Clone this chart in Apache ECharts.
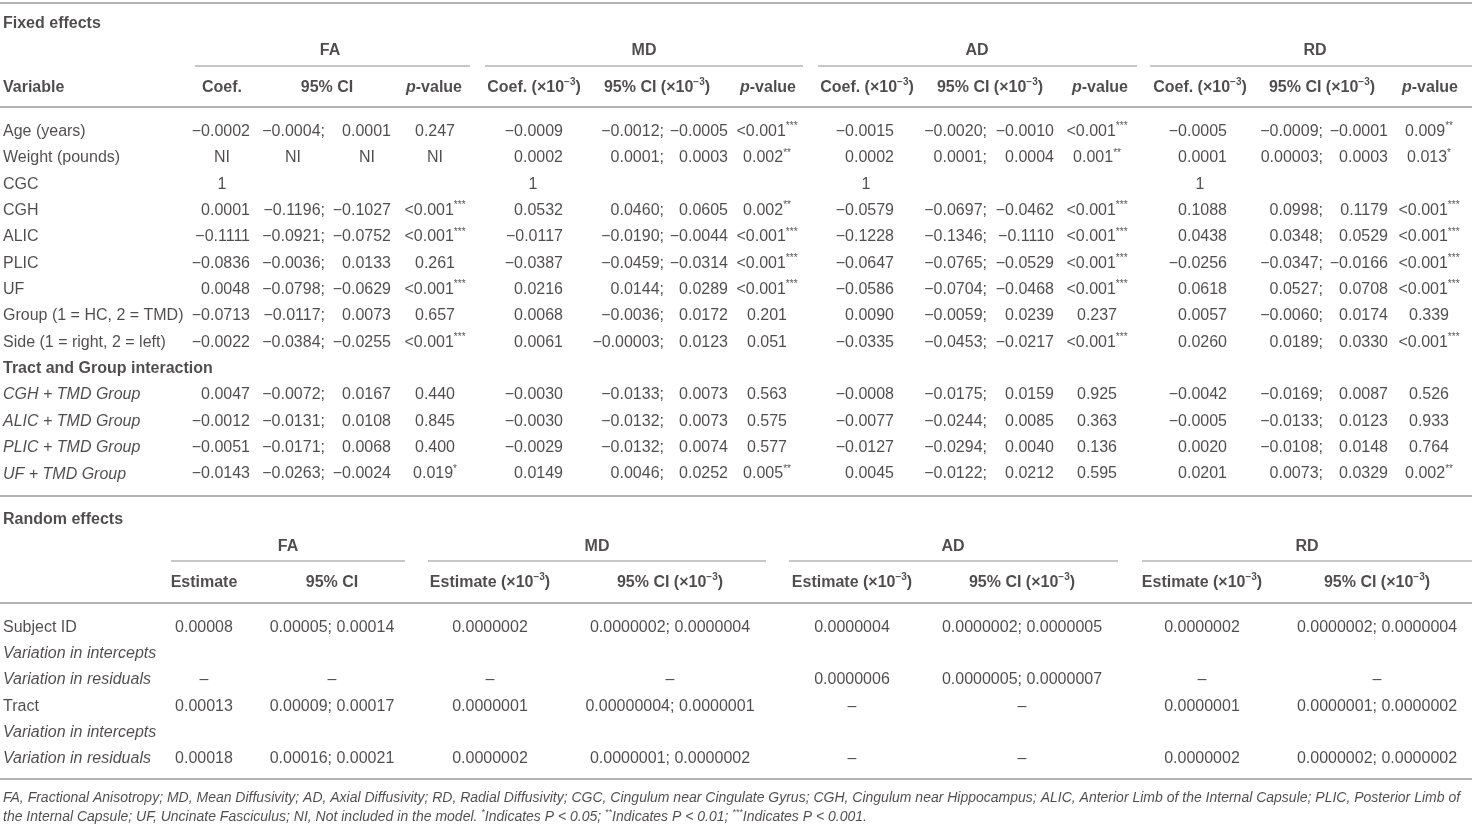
<!DOCTYPE html>
<html>
<head>
<meta charset="utf-8">
<title>Linear mixed model results</title>
<script src="https://cdn.jsdelivr.net/npm/echarts@6/dist/echarts.min.js"></script>
<style>
    html, body { margin: 0; padding: 0; background: #fff; }
    #chart { width: 1472px; height: 826px; }
</style>
</head>
<body>
<div id="chart"></div>
<script>
// ---- data: fixed effects (9 rows) + tract x group interaction (4 rows) ----
var fixedVars = ['Age (years)', 'Weight (pounds)', 'CGC', 'CGH', 'ALIC', 'PLIC', 'UF',
    'Group (1 = HC, 2 = TMD)', 'Side (1 = right, 2 = left)'];
var interVars = ['CGH + TMD Group', 'ALIC + TMD Group', 'PLIC + TMD Group', 'UF + TMD Group'];
var measures = ['FA', 'MD', 'AD', 'RD'];

var faCoef = ['−0.0002', 'NI', '1', '0.0001', '−0.1111', '−0.0836', '0.0048', '−0.0713', '−0.0022', '0.0047', '−0.0012', '−0.0051', '−0.0143'];
var faLow  = ['−0.0004', 'NI', '', '−0.1196', '−0.0921', '−0.0036', '−0.0798', '−0.0117', '−0.0384', '−0.0072', '−0.0131', '−0.0171', '−0.0263'];
var faHigh = ['0.0001', 'NI', '', '−0.1027', '−0.0752', '0.0133', '−0.0629', '0.0073', '−0.0255', '0.0167', '0.0108', '0.0068', '−0.0024'];
var faP    = ['0.247', 'NI', '', '<0.001***', '<0.001***', '0.261', '<0.001***', '0.657', '<0.001***', '0.440', '0.845', '0.400', '0.019*'];

var mdCoef = ['−0.0009', '0.0002', '1', '0.0532', '−0.0117', '−0.0387', '0.0216', '0.0068', '0.0061', '−0.0030', '−0.0030', '−0.0029', '0.0149'];
var mdLow  = ['−0.0012', '0.0001', '', '0.0460', '−0.0190', '−0.0459', '0.0144', '−0.0036', '−0.00003', '−0.0133', '−0.0132', '−0.0132', '0.0046'];
var mdHigh = ['−0.0005', '0.0003', '', '0.0605', '−0.0044', '−0.0314', '0.0289', '0.0172', '0.0123', '0.0073', '0.0073', '0.0074', '0.0252'];
var mdP    = ['<0.001***', '0.002**', '', '0.002**', '<0.001***', '<0.001***', '<0.001***', '0.201', '0.051', '0.563', '0.575', '0.577', '0.005**'];

var adCoef = ['−0.0015', '0.0002', '1', '−0.0579', '−0.1228', '−0.0647', '−0.0586', '0.0090', '−0.0335', '−0.0008', '−0.0077', '−0.0127', '0.0045'];
var adLow  = ['−0.0020', '0.0001', '', '−0.0697', '−0.1346', '−0.0765', '−0.0704', '−0.0059', '−0.0453', '−0.0175', '−0.0244', '−0.0294', '−0.0122'];
var adHigh = ['−0.0010', '0.0004', '', '−0.0462', '−0.1110', '−0.0529', '−0.0468', '0.0239', '−0.0217', '0.0159', '0.0085', '0.0040', '0.0212'];
var adP    = ['<0.001***', '0.001**', '', '<0.001***', '<0.001***', '<0.001***', '<0.001***', '0.237', '<0.001***', '0.925', '0.363', '0.136', '0.595'];

var rdCoef = ['−0.0005', '0.0001', '1', '0.1088', '0.0438', '−0.0256', '0.0618', '0.0057', '0.0260', '−0.0042', '−0.0005', '0.0020', '0.0201'];
var rdLow  = ['−0.0009', '0.00003', '', '0.0998', '0.0348', '−0.0347', '0.0527', '−0.0060', '0.0189', '−0.0169', '−0.0133', '−0.0108', '0.0073'];
var rdHigh = ['−0.0001', '0.0003', '', '0.1179', '0.0529', '−0.0166', '0.0708', '0.0174', '0.0330', '0.0087', '0.0123', '0.0148', '0.0329'];
var rdP    = ['0.009**', '0.013*', '', '<0.001***', '<0.001***', '<0.001***', '<0.001***', '0.339', '<0.001***', '0.526', '0.933', '0.764', '0.002**'];

// ---- data: random effects ----
var randomRows = ['Subject ID', 'Variation in intercepts', 'Variation in residuals',
    'Tract', 'Variation in intercepts', 'Variation in residuals'];
var faEst = ['0.00008', '', '–', '0.00013', '', '0.00018'];
var faCi  = ['0.00005; 0.00014', '', '–', '0.00009; 0.00017', '', '0.00016; 0.00021'];
var mdEst = ['0.0000002', '', '–', '0.0000001', '', '0.0000002'];
var mdCi  = ['0.0000002; 0.0000004', '', '–', '0.00000004; 0.0000001', '', '0.0000001; 0.0000002'];
var adEst = ['0.0000004', '', '0.0000006', '–', '', '–'];
var adCi  = ['0.0000002; 0.0000005', '', '0.0000005; 0.0000007', '–', '', '–'];
var rdEst = ['0.0000002', '', '–', '0.0000001', '', '0.0000002'];
var rdCi  = ['0.0000002; 0.0000004', '', '–', '0.0000001; 0.0000002', '', '0.0000002; 0.0000002'];

var footLines = [
    'FA, Fractional Anisotropy; MD, Mean Diffusivity; AD, Axial Diffusivity; RD, Radial Diffusivity; CGC, Cingulum near Cingulate Gyrus; CGH, Cingulum near Hippocampus; ALIC, Anterior Limb of the Internal Capsule; PLIC, Posterior Limb of',
    'the Internal Capsule; UF, Uncinate Fasciculus; NI, Not included in the model. *Indicates P < 0.05; **Indicates P < 0.01; ***Indicates P < 0.001.'
];

var fixedData = [
    [faCoef, faLow, faHigh, faP],
    [mdCoef, mdLow, mdHigh, mdP],
    [adCoef, adLow, adHigh, adP],
    [rdCoef, rdLow, rdHigh, rdP]
];
var randomData = [[faEst, faCi], [mdEst, mdCi], [adEst, adCi], [rdEst, rdCi]];

// ---- layout (value axes are mapped 1:1 to the picture) ----
var W = 1472, H = 826;
var TXT = '#231f20', RULE = '#b4b4b4';
var FONT = '"Liberation Sans", Arial, Helvetica, sans-serif';
var FS = 16;
var DY = 1.5; // text sits a touch high with middle alignment

// main table columns per measure
var fixCols = [
    {head: 330, line: [195, 470], hCoef: 222, hCi: 327, hP: 434, coefR: 250, coefC: 222, lowR: 325, lowC: 293, highR: 391, highC: 367, pC: 435},
    {head: 644, line: [485, 803], hCoef: 534, hCi: 657, hP: 768, coefR: 563, coefC: 533, lowR: 664, lowC: 640, highR: 728, highC: 700, pC: 767},
    {head: 977, line: [818, 1137], hCoef: 867, hCi: 990, hP: 1100, coefR: 894, coefC: 866, lowR: 987, lowC: 958, highR: 1054, highC: 1025, pC: 1097},
    {head: 1315, line: [1150, 1472], hCoef: 1200, hCi: 1322, hP: 1430, coefR: 1227, coefC: 1200, lowR: 1323, lowC: 1290, highR: 1388, highC: 1360, pC: 1429}
];
var randCols = [
    {head: 288, line: [171, 405], est: 204, ci: 332},
    {head: 597, line: [428, 766], est: 490, ci: 670},
    {head: 953, line: [789, 1118], est: 852, ci: 1022},
    {head: 1307, line: [1142, 1472], est: 1202, ci: 1377}
];

function fixedRowY(i) { return 130 + i * 26.35; }
function randRowY(i) { return 626 + i * 26.2; }

var rich = {
    bi: {fontWeight: 'bold', fontStyle: 'italic', fontSize: FS, fontFamily: FONT, color: TXT},
    bsup: {fontWeight: 'bold', fontSize: 10, fontFamily: FONT, color: TXT, verticalAlign: 'top', lineHeight: 11},
    sup: {fontSize: 10, fontFamily: FONT, color: TXT, verticalAlign: 'top', lineHeight: 11},
    fsup: {fontSize: 9, fontStyle: 'italic', fontFamily: FONT, color: TXT, verticalAlign: 'top', lineHeight: 10}
};

var cells = [];
function cell(x, y, text, align, opt) {
    opt = opt || {};
    cells.push({
        value: [x, y + DY],
        label: {
            formatter: text,
            align: align,
            fontWeight: opt.bold ? 'bold' : 'normal',
            fontStyle: opt.italic ? 'italic' : 'normal',
            fontSize: opt.size || FS,
            lineHeight: 20
        }
    });
}
function starred(p) {
    return p.replace(/(\*+)$/, '{sup|$1}');
}
var sci = ' (×10{bsup|−3})';

// fixed effects
cell(3, 22, 'Fixed effects', 'left', {bold: true});
cell(3, 86, 'Variable', 'left', {bold: true});
fixedVars.forEach(function (v, i) { cell(3, fixedRowY(i), v, 'left'); });
cell(3, fixedRowY(9), 'Tract and Group interaction', 'left', {bold: true});
interVars.forEach(function (v, i) { cell(3, fixedRowY(10 + i), v, 'left', {italic: true}); });

measures.forEach(function (m, k) {
    var c = fixCols[k], d = fixedData[k];
    var unit = k === 0 ? '' : sci;
    cell(c.head, 49, m, 'center', {bold: true});
    cell(c.hCoef, 86, 'Coef.' + unit, 'center', {bold: true});
    cell(c.hCi, 86, '95% CI' + unit, 'center', {bold: true});
    cell(c.hP, 86, '{bi|p}-value', 'center', {bold: true});
    for (var i = 0; i < 13; i++) {
        var y = fixedRowY(i < 9 ? i : i + 1);
        var coef = d[0][i], low = d[1][i], high = d[2][i], p = d[3][i];
        if (coef === 'NI' || coef === '1') cell(c.coefC, y, coef, 'center');
        else if (coef) cell(c.coefR, y, coef, 'right');
        if (low === 'NI') cell(c.lowC, y, low, 'center');
        else if (low) cell(c.lowR, y, low + ';', 'right');
        if (high === 'NI') cell(c.highC, y, high, 'center');
        else if (high) cell(c.highR, y, high, 'right');
        if (p) cell(c.pC, y, starred(p), 'center');
    }
});

// random effects
cell(3, 518, 'Random effects', 'left', {bold: true});
randomRows.forEach(function (v, i) {
    cell(3, randRowY(i), v, 'left', {italic: v.indexOf('Variation') === 0});
});
measures.forEach(function (m, k) {
    var c = randCols[k], d = randomData[k];
    var unit = k === 0 ? '' : sci;
    cell(c.head, 545, m, 'center', {bold: true});
    cell(c.est, 581, 'Estimate' + unit, 'center', {bold: true});
    cell(c.ci, 581, '95% CI' + unit, 'center', {bold: true});
    d[0].forEach(function (v, i) { if (v) cell(c.est, randRowY(i), v, 'center'); });
    d[1].forEach(function (v, i) { if (v) cell(c.ci, randRowY(i), v, 'center'); });
});

// footnote
footLines.forEach(function (t, i) {
    cell(3, 797 + i * 19, t.replace(/(\*+)(?=Indicates)/g, '{fsup|$1}'), 'left', {italic: true, size: 14});
});

// horizontal rules
var rules = [];
function rule(x1, x2, y, w) {
    rules.push({coords: [[x1, y], [x2, y]], lineStyle: {width: w}});
}
rule(0, W, 3, 2);
fixCols.forEach(function (c) { rule(c.line[0], c.line[1], 66, 1.5); });
rule(0, W, 107, 2);
rule(0, W, 496, 2);
randCols.forEach(function (c) { rule(c.line[0], c.line[1], 561, 1.5); });
rule(0, W, 603, 2);
rule(0, W, 779, 2);

var myChart = echarts.init(document.getElementById('chart'));
var option = {
    animation: false,
    backgroundColor: '#fff',
    grid: {left: 0, right: 0, top: 0, bottom: 0},
    xAxis: {type: 'value', min: 0, max: W, show: false},
    yAxis: {type: 'value', min: 0, max: H, inverse: true, show: false},
    series: [
        {
            type: 'lines',
            coordinateSystem: 'cartesian2d',
            silent: true,
            lineStyle: {color: RULE, opacity: 1},
            data: rules
        },
        {
            type: 'scatter',
            silent: true,
            symbolSize: 1,
            itemStyle: {color: 'rgba(0,0,0,0)'},
            label: {
                show: true,
                position: 'inside',
                verticalAlign: 'middle',
                color: TXT,
                fontFamily: FONT,
                fontSize: FS,
                rich: rich
            },
            data: cells
        }
    ]
};
myChart.setOption(option);
</script>
</body>
</html>
